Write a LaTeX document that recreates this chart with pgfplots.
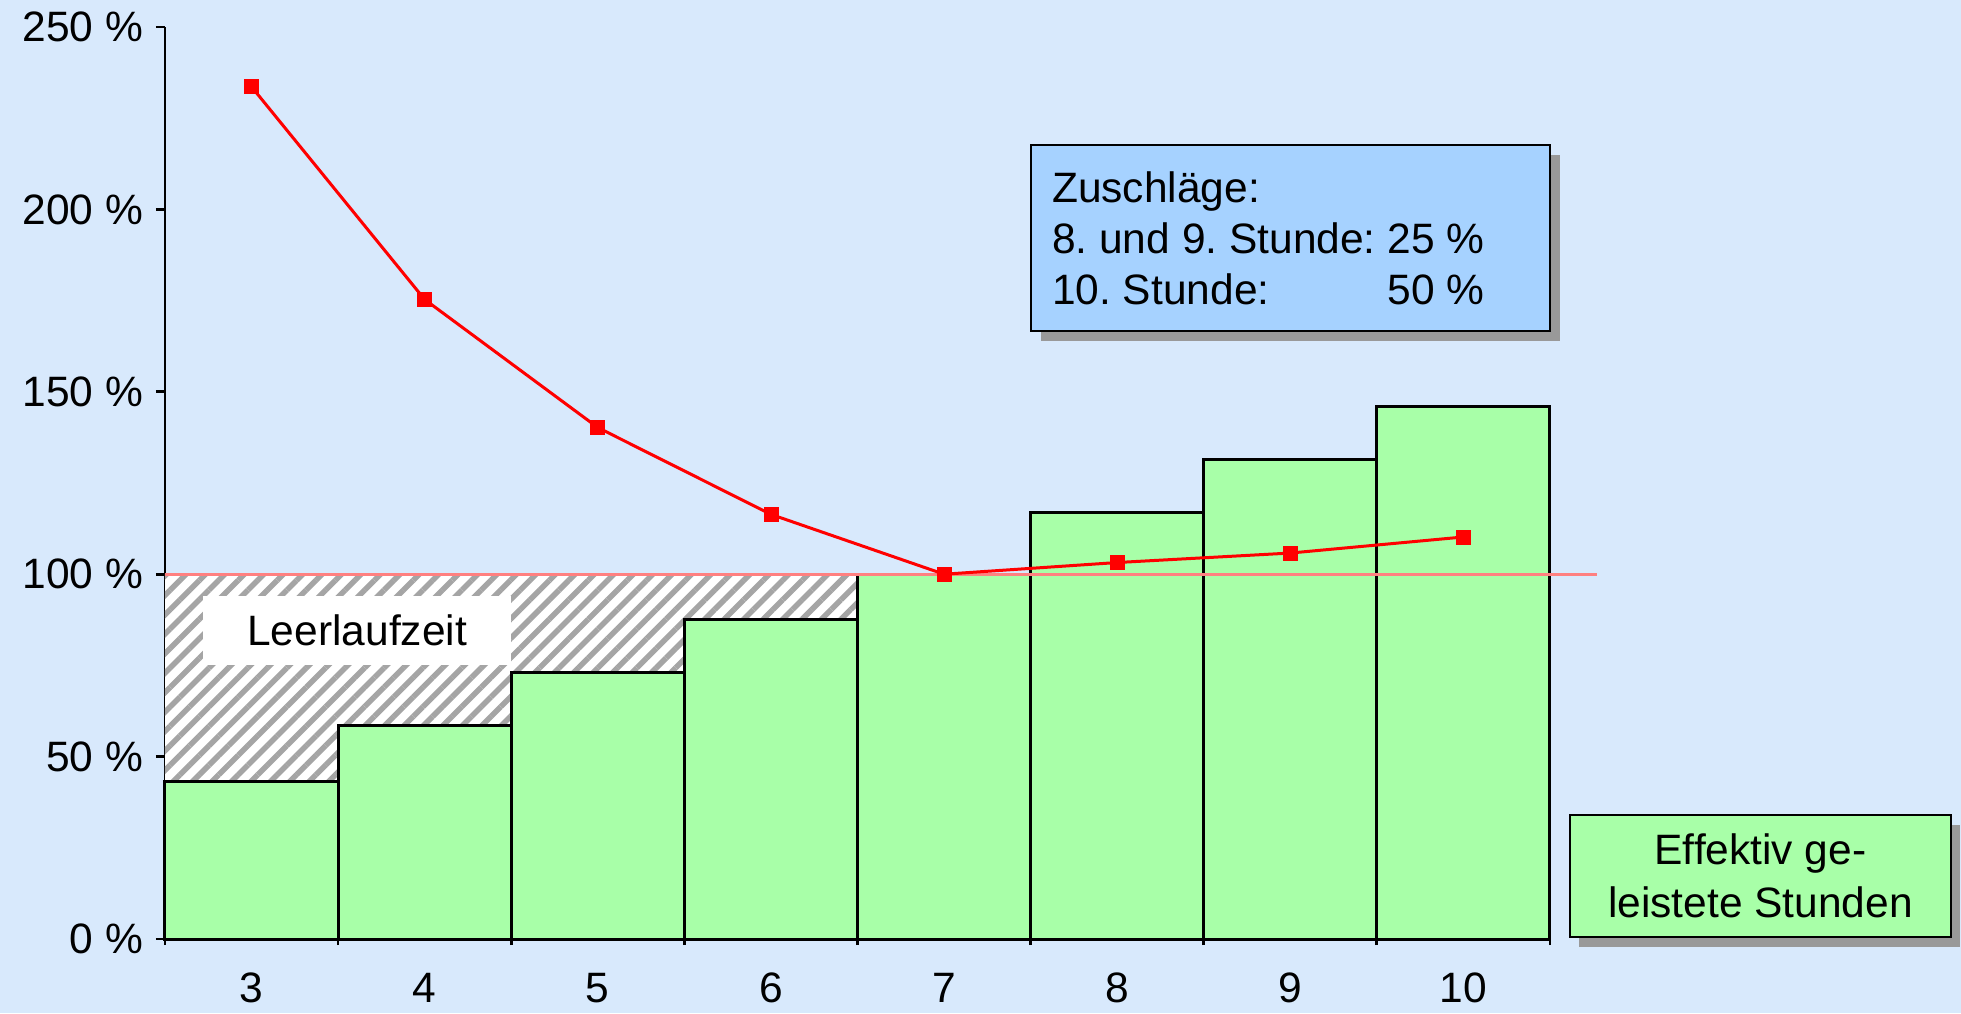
\documentclass[border=0pt]{standalone}
\usepackage{fontspec}
\setmainfont{Liberation Sans}
\usepackage{pgfplots}
\pgfplotsset{compat=1.18}
\usetikzlibrary{patterns.meta}
\definecolor{bgblue}{RGB}{216,233,252}
\definecolor{bargreen}{RGB}{168,255,168}
\definecolor{boxblue}{RGB}{166,210,255}
\definecolor{shadowgray}{RGB}{153,153,153}
\definecolor{hatchgray}{RGB}{165,165,165}
\definecolor{pinkline}{RGB}{255,128,128}
\newcommand{\fs}{\fontsize{17}{20.4}\selectfont}
\frenchspacing
\begin{document}
\begin{tikzpicture}[font=\fs]
\fill[bgblue] (-66pt,-29.6pt) rectangle (718.4pt,375.6pt);
\begin{axis}[at={(0pt,0pt)}, anchor=south west, scale only axis,
  width=554pt, height=364.8pt,
  xmin=2.5, xmax=10.5, ymin=0, ymax=250, clip=false,
  axis lines=left, axis line style={-, line width=1.1pt, black},
  tick style={black, line width=1.1pt},
  tick align=outside, major tick length=3.6pt, minor tick length=2.4pt,
  ytick={0,50,100,150,200,250},
  yticklabels={0 \%,50 \%,100 \%,150 \%,200 \%,250 \%},
  xtick={3,4,5,6,7,8,9,10}, xticklabels={3,4,5,6,7,8,9,10},
  minor xtick={2.5,3.5,4.5,5.5,6.5,7.5,8.5,9.5,10.5},
  major x tick style={draw=none},
  tick label style={font=\fs},
  yticklabel style={xshift=-1.7pt},
  xticklabel style={yshift=-6.5pt},
]
% hatched idle-time area
\fill[white] (axis cs:2.5,0) rectangle (axis cs:6.5,100);
\fill[pattern={Lines[angle=45,distance=5.5pt,line width=2.2pt]}, pattern color=hatchgray]
  (axis cs:2.5,0) rectangle (axis cs:6.5,100);
\node[fill=white, minimum width=123pt, minimum height=27.6pt, inner sep=0pt]
  at (axis cs:3.61,84.7) {Leerlaufzeit};
% bars
\addplot[ybar, bar width=1, fill=bargreen, draw=black, line width=1.2pt]
  coordinates {(3,43.2) (4,58.4) (5,73.0) (6,87.7) (7,100) (8,117.0) (9,131.5) (10,146.1)};
% 100 % line
\draw[pinkline, line width=1.2pt] (axis cs:2.5,100) -- (axis cs:10.77,100);
% ratio line
\addplot[red, line width=1.2pt, mark=square*, mark size=2.8pt,
  mark options={solid, fill=red, draw=red, line width=0.3pt}]
  coordinates {(3,233.6) (4,175.3) (5,140.2) (6,116.4) (7,100) (8,103.2) (9,105.8) (10,110.2)};
% Zuschlaege box
\fill[shadowgray] ([xshift=4pt,yshift=-4pt]axis cs:7.5,166.7) rectangle ([xshift=4pt,yshift=-4pt]axis cs:10.5,217.7);
\draw[fill=boxblue, line width=0.8pt] (axis cs:7.5,166.7) rectangle (axis cs:10.5,217.7);
\node[anchor=north west, inner sep=0pt, xshift=8.4pt, yshift=-8.6pt] at (axis cs:7.5,217.7)
  {\fs\begin{tabular}{@{}l@{\ }r@{}}
   Zuschläge: & \\
   8. und 9. Stunde: & 25 \% \\
   10. Stunde: & 50 \%
  \end{tabular}};
% legend box
\fill[shadowgray] ([xshift=3.6pt,yshift=-4pt]axis cs:10.616,0.55) rectangle ([xshift=3.6pt,yshift=-4pt]axis cs:12.816,33.99);
\draw[fill=bargreen, line width=0.8pt] (axis cs:10.616,0.55) rectangle (axis cs:12.816,33.99);
\node[align=center, inner sep=0pt, font=\fontsize{17}{21.2}\selectfont] at (axis cs:11.716,17.3)
  {Effektiv ge-\\leistete Stunden};
\end{axis}
\pgfresetboundingbox
\path[use as bounding box] (-66pt,-29.6pt) rectangle (718.4pt,375.6pt);
\end{tikzpicture}
\end{document}
